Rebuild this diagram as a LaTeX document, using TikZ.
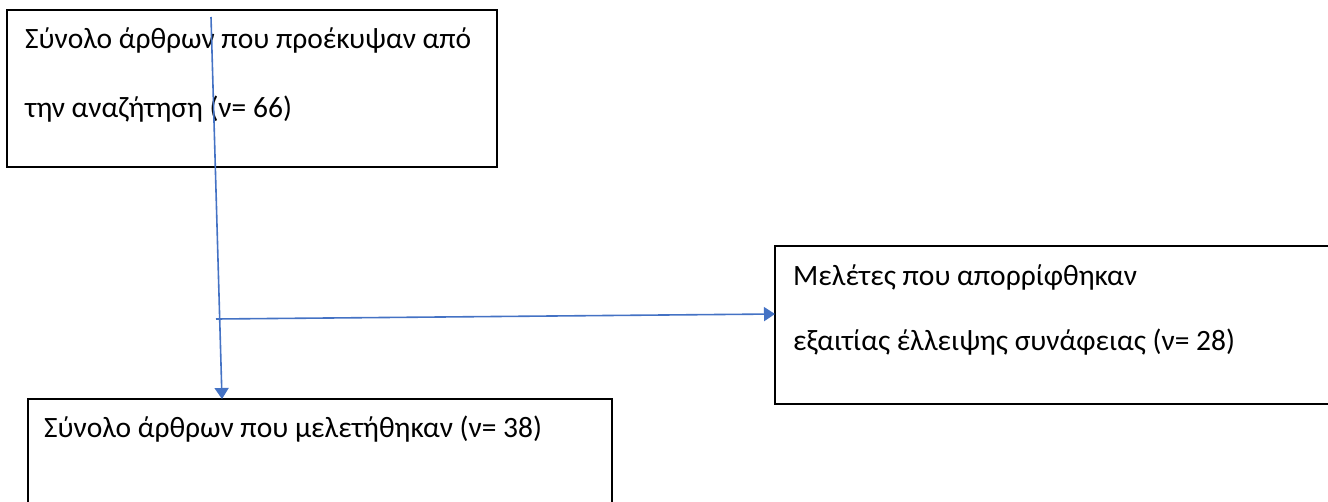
\documentclass[tikz,border=0pt]{standalone}
\usepackage{fontspec}
\setmainfont{Carlito}
\usetikzlibrary{arrows.meta}
\definecolor{wordblue}{RGB}{68,114,196}

\begin{document}
\begin{tikzpicture}[x=1pt,y=-1pt,>={Triangle[length=11pt,width=14pt]},
  box/.style={draw,line width=2pt,inner sep=0pt},
  txt/.style={anchor=base west,inner sep=0pt,font=\fontsize{29.5}{34}\selectfont},
  flow/.style={draw=wordblue,fill=wordblue,line width=1.6pt}]
\useasboundingbox (0,0) rectangle (1328,501);
\clip (0,0) rectangle (1328,501);
%---------------- boxes
\node[box,minimum width=490pt,minimum height=157pt] (search) at (252,88.5) {};
\node[box,minimum width=584pt,minimum height=140pt] (total) at (320,469) {};
\node[box,minimum width=570pt,minimum height=158pt] (reject) at (1060,325) {};

% texts
\node[txt] (search1) at (25,48) {Σύνολο άρθρων που προέκυψαν από};
\node[txt] (search2) at (25,117) {την αναζήτηση (ν= 66)};
\node[txt] (reject1) at (793,285) {Μελέτες που απορρίφθηκαν};
\node[txt] (reject2) at (793,350) {εξαιτίας έλλειψης συνάφειας (ν= 28)};
\node[txt] (total1) at (44,437) {Σύνολο άρθρων που μελετήθηκαν (ν= 38)};

%---------------- arrows
\coordinate (from) at (211,17);
\coordinate (into) at (222,399);
\coordinate (branch) at (216,319);
\coordinate (aside) at (775,314);
\draw[flow,->] (from) -- (into);
\draw[flow,->] (branch) -- (aside);
\end{tikzpicture}
\end{document}
